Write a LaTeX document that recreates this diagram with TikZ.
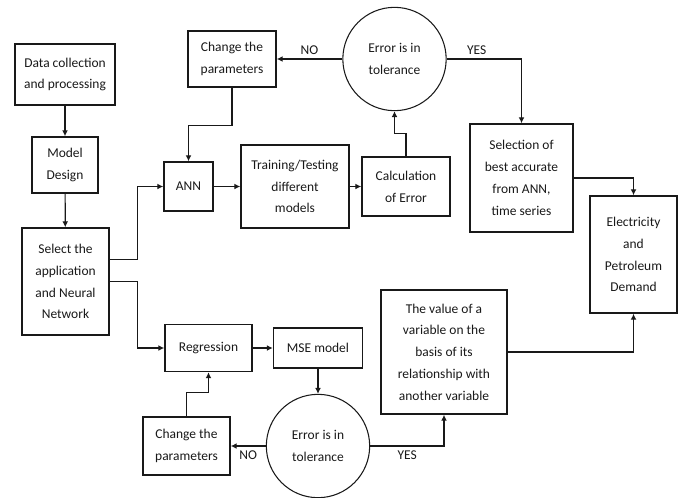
\documentclass[tikz,border=0pt]{standalone}
\usepackage{fontspec}
\setmainfont{Carlito}
\usetikzlibrary{arrows.meta, calc}

\begin{document}
\begin{tikzpicture}[->,>={Latex[length=5pt,width=5pt]},x=0.03cm,y=-0.03cm,
        line width=1pt, color=black!90, font=\fontsize{11.5}{18.6}\selectfont,
        block/.style={rectangle, draw, line width=1.3pt, align=center, inner sep=1pt},
        tolerance/.style={circle, draw, line width=0.9pt, align=center, minimum size=3.1cm, inner sep=0pt}]

        \useasboundingbox (0,0) rectangle (683,497);

        \node[block, minimum width=3cm,    minimum height=1.83cm] (0)  at (65,74.5)    {Data collection\\and processing};
        \node[block, minimum width=1.98cm, minimum height=1.68cm] (1)  at (65,165)     {Model\\Design};
        \node[block, minimum width=2.61cm, minimum height=3.21cm] (2)  at (65.5,281.5) {Select the\\application\\and Neural\\Network};
        \node[block, minimum width=2.64cm, minimum height=1.68cm] (3)  at (232,59)     {Change the\\parameters};
        \node[block, minimum width=1.47cm, minimum height=1.47cm] (4)  at (188.5,186.5){ANN};
        \node[block, minimum width=3.24cm, minimum height=2.49cm] (5)  at (295,186.5)  {Training/Testing\\different\\models};
        \node[block, minimum width=2.64cm, minimum height=1.77cm] (6)  at (406,186.5)  {Calculation\\of Error};
        \node[tolerance]                                          (7)  at (394.5,59)   {Error is in\\tolerance};
        \node[block, minimum width=3.09cm, minimum height=3.24cm] (8)  at (521.5,178)  {Selection of\\best accurate\\from ANN,\\time series};
        \node[block, minimum width=2.61cm, minimum height=3.51cm] (9)  at (633.5,254.5){Electricity\\and\\Petroleum\\Demand};
        \node[block, minimum width=2.61cm, minimum height=1.41cm] (10) at (208.5,348)  {Regression};
        \node[block, minimum width=2.67cm, minimum height=1.2cm]  (11) at (318,348)    {MSE model};
        \node[tolerance]                                          (12) at (318,446)    {Error is in\\tolerance};
        \node[block, minimum width=2.61cm, minimum height=1.74cm] (13) at (186.5,446)  {Change the\\parameters};
        \node[block, minimum width=3.78cm, minimum height=3.72cm] (14) at (444,352)    {The value of a\\variable on the\\basis of its\\relationship with\\another variable};

        \draw   (0) edge                    node {}                     (1)
                (1) edge                    node {}                     (2)
                (4) edge                    node {}                     (5)
                (5) edge                    node {}                     (6)
                (7) edge                    node [above] {NO}           (3)
                (10) edge                   node {}                     (11)
                (11) edge                   node {}                     (12)
                (12) edge                   node [below] {NO}           (13);

        \draw   ($(2.east)+(0,-22)$) -- ++(28,0) |- (4.west);
        \draw   (2.east) -- ++(28,0) |- (10.west);
        \draw   (3.south) -- ++(0,38) -| (4.north);
        \draw   (6.north) -- ++(0,-23) -| (7.south);
        \draw   (7.east) -| node [above, pos=0.2] {YES} (8.north);
        \draw   (8.east) -| (9.north);
        \draw   (13.north) -- ++(0,-24) -| (10.south);
        \draw   (12.east) -| node [below, pos=0.25] {YES} (14.south);
        \draw   (14.east) -| (9.south);

    \end{tikzpicture}
\end{document}
